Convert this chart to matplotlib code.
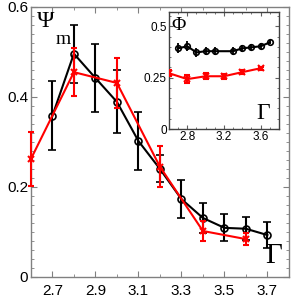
import numpy as np
import matplotlib
matplotlib.use("Agg")
import matplotlib.pyplot as plt
from matplotlib.ticker import MultipleLocator

plt.rcParams['font.family'] = ['Liberation Sans', 'DejaVu Sans']

# main panel: Psi_m vs Gamma
g_black = [2.7, 2.8, 2.9, 3.0, 3.1, 3.2, 3.3, 3.4, 3.5, 3.6, 3.7]
psi_black = [0.358, 0.496, 0.442, 0.389, 0.302, 0.240, 0.173, 0.131, 0.109, 0.107, 0.093]
err_black = [0.077, 0.064, 0.075, 0.070, 0.065, 0.030, 0.043, 0.034, 0.030, 0.026, 0.028]

g_red = [2.6, 2.8, 3.0, 3.2, 3.4, 3.6]
psi_red = [0.262, 0.455, 0.431, 0.245, 0.102, 0.084]
err_red = [0.060, 0.054, 0.056, 0.045, 0.022, 0.013]

# inset: Phi vs Gamma
gi_black = [2.7, 2.8, 2.9, 3.0, 3.1, 3.3, 3.4, 3.5, 3.6, 3.7]
phi_black = [0.393, 0.403, 0.373, 0.379, 0.379, 0.379, 0.393, 0.398, 0.403, 0.422]
ei_black = [0.025, 0.025, 0.022, 0.020, 0.020, 0.020, 0.018, 0.015, 0.015, 0.010]

gi_red = [2.6, 2.8, 3.0, 3.2, 3.4, 3.6]
phi_red = [0.272, 0.243, 0.257, 0.257, 0.277, 0.296]
ei_red = [0.015, 0.018, 0.015, 0.012, 0.010, 0.008]

fig = plt.figure(figsize=(3, 3), dpi=100)
ax = fig.add_axes([0.103, 0.077, 0.86, 0.9])

ax.errorbar(g_black, psi_black, yerr=err_black, color='black', marker='o',
            mfc='none', mec='black', ms=5, mew=1.2, lw=1.5, elinewidth=1.5,
            capsize=3, capthick=1.2, zorder=2)
eb = ax.errorbar(g_red, psi_red, yerr=err_red, color='red', marker='x',
                 ms=5, mew=1.5, lw=1.5, elinewidth=1.5,
                 capsize=2, capthick=1.2, zorder=3)
for art in eb.lines[:1] + tuple(eb.lines[1]) + tuple(eb.lines[2]):
    art.set_clip_on(False)

ax.set_xlim(2.6, 3.8)
ax.set_ylim(0, 0.6)
ax.set_xticks([2.7, 2.9, 3.1, 3.3, 3.5, 3.7])
ax.set_yticks([0, 0.2, 0.4, 0.6])
ax.set_yticklabels(['0', '0.2', '0.4', '0.6'])
ax.xaxis.set_minor_locator(MultipleLocator(0.1))
ax.yaxis.set_minor_locator(MultipleLocator(0.02))
ax.tick_params(which='both', direction='in', top=True, right=True,
               color='#808080', labelsize=11, pad=2)
ax.tick_params(axis='x', pad=5)
ax.tick_params(which='major', length=4)
ax.tick_params(which='minor', length=2)
for s in ax.spines.values():
    s.set_color('#808080')
    s.set_linewidth(1)

ax.text(0.025, 0.985, 'Ψ', transform=ax.transAxes, fontsize=17,
        family='Liberation Serif', va='top', ha='left')
ax.text(0.095, 0.91, 'm', transform=ax.transAxes, fontsize=14,
        family='Liberation Serif', va='top', ha='left')
ax.text(0.91, 0.03, 'Γ', transform=ax.transAxes, fontsize=21,
        family='Liberation Serif', va='bottom', ha='left')

ins = fig.add_axes([0.563, 0.57, 0.367, 0.39])
ins.errorbar(gi_black, phi_black, yerr=ei_black, color='black', marker='o',
             mfc='none', mec='black', ms=4, mew=1.2, lw=1.5, elinewidth=1.3,
             capsize=0, zorder=2)
ins.errorbar(gi_red, phi_red, yerr=ei_red, color='red', marker='x',
             ms=4, mew=1.5, lw=1.5, elinewidth=1.5, capsize=2,
             capthick=1.2, zorder=3)
ins.set_xlim(2.6, 3.8)
ins.set_ylim(0, 0.57)
ins.set_xticks([2.8, 3.2, 3.6])
ins.set_yticks([0, 0.25, 0.5])
ins.set_yticklabels(['0', '0.25', '0.5'])
ins.xaxis.set_minor_locator(MultipleLocator(0.1))
ins.yaxis.set_minor_locator(MultipleLocator(0.05))
ins.tick_params(which='both', direction='in', top=True, right=True,
                color='#606060', labelsize=8.5, pad=1.5)
ins.tick_params(which='major', length=3)
ins.tick_params(which='minor', length=1.5)
for s in ins.spines.values():
    s.set_color('#404040')
    s.set_linewidth(1)

ins.text(0.025, 0.96, 'Φ', transform=ins.transAxes, fontsize=14,
         family='Liberation Serif', va='top', ha='left')
ins.text(0.79, 0.04, 'Γ', transform=ins.transAxes, fontsize=17,
         family='Liberation Serif', va='bottom', ha='left')

fig.savefig('out.png', dpi=100)
